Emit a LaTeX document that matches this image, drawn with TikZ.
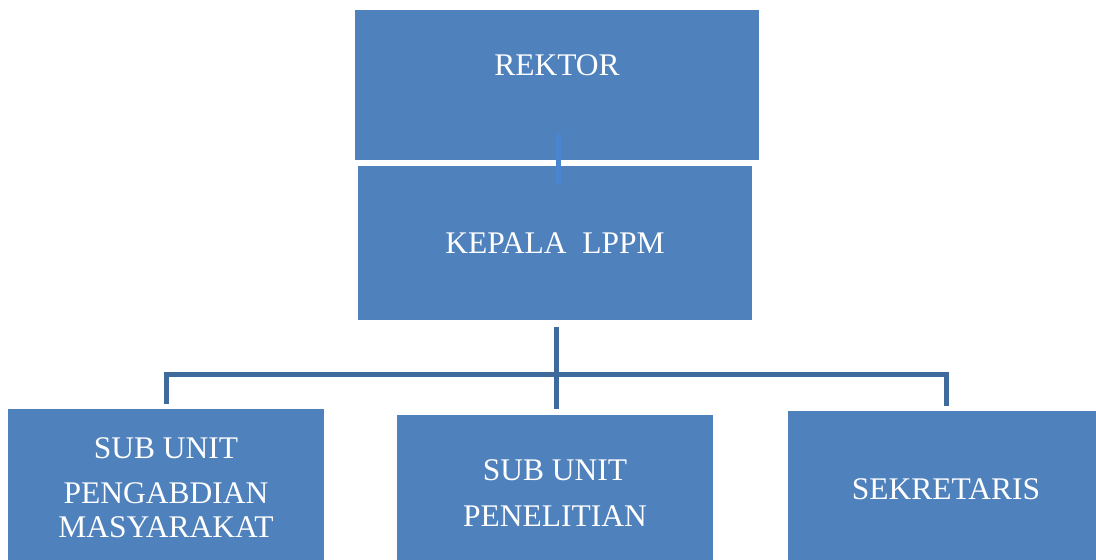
\documentclass[tikz,border=0pt]{standalone}
\usepackage{fontspec}
\setmainfont{Liberation Serif}
\definecolor{boxblue}{HTML}{4F81BD}
\definecolor{linedark}{HTML}{3E6A9C}
\definecolor{linelight}{HTML}{4A86D0}
\begin{document}
\begin{tikzpicture}[x=1pt,y=-1pt,
  orgbox/.style={fill=boxblue,draw=none,inner sep=0},
  orgtext/.style={text=white,font=\fontsize{31.5}{36}\selectfont,inner sep=0,anchor=center},
  conn/.style={draw=linedark,line width=5pt}]
\useasboundingbox (0,0) rectangle (1096,560);
% boxes
\path[orgbox] (355,10) rectangle (759,160) node[pos=0.5] (rektor) {};
\path[orgbox] (358,166) rectangle (752,320) node[pos=0.5] (kepala) {};
\path[orgbox] (8,409) rectangle (324,560) node[pos=0.5] (abdi) {};
\path[orgbox] (397,415) rectangle (713,560) node[pos=0.5] (teliti) {};
\path[orgbox] (788,411) rectangle (1096,560) node[pos=0.5] (sekre) {};
% texts
\node[orgtext] (trektor) at (557,65) {REKTOR};
\node[orgtext] (tkepala) at (555,243) {KEPALA\ \ LPPM};
\node[orgtext] (tabdi1) at (166,448) {SUB UNIT};
\node[orgtext] (tabdi2) at (166,493) {PENGABDIAN};
\node[orgtext] (tabdi3) at (166,527) {MASYARAKAT};
\node[orgtext] (tteliti1) at (555,470) {SUB UNIT};
\node[orgtext] (tteliti2) at (555,516) {PENELITIAN};
\node[orgtext] (tsekre) at (946,489) {SEKRETARIS};
% connectors
\coordinate (rtop) at (558,134);
\coordinate (rbot) at (558,184);
\draw[draw=linelight,line width=5pt] (rtop) -- (rbot);
\coordinate (kbot) at (556,327);
\coordinate (mbot) at (556,409);
\coordinate (lbar) at (166.5,374);
\coordinate (lbot) at (166.5,404);
\coordinate (rbar) at (946.5,374);
\coordinate (rdrop) at (946.5,406);
\draw[conn] (kbot) -- (mbot);
\draw[conn,line join=miter] (lbot) -- (lbar) -- (rbar) -- (rdrop);
\end{tikzpicture}
\end{document}
